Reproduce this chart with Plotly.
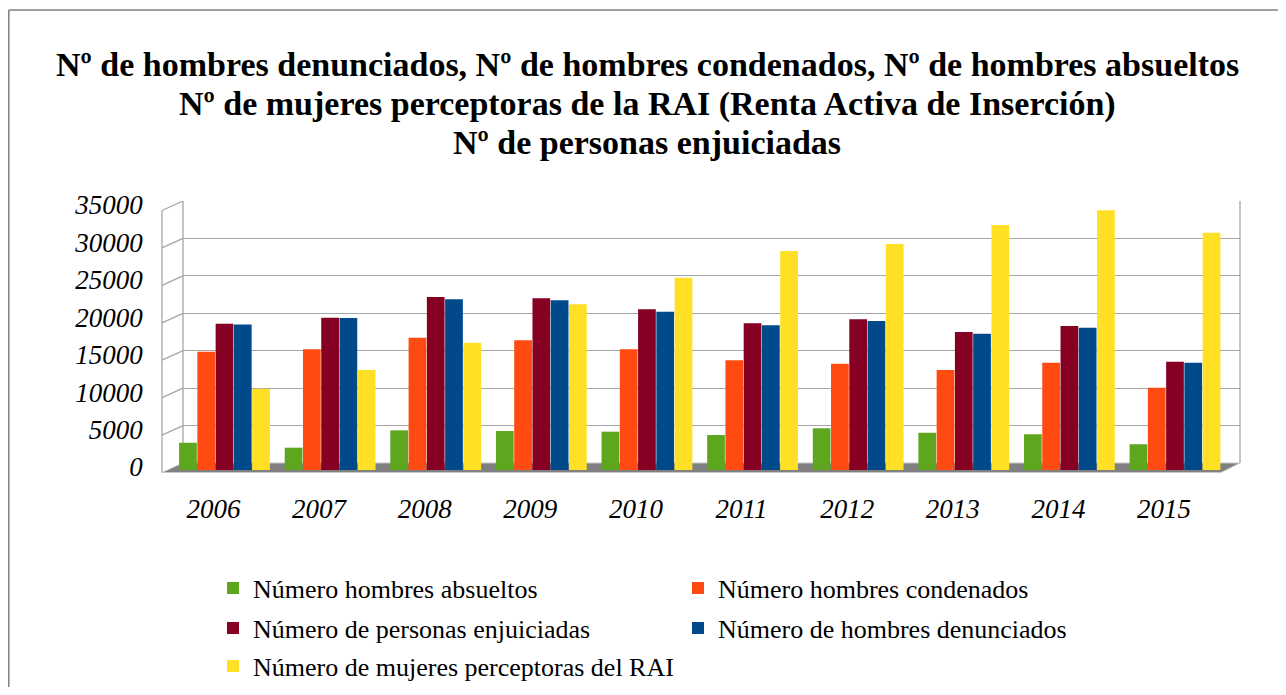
import plotly.graph_objects as go

# ---------------- data ----------------
years = ['2006', '2007', '2008', '2009', '2010', '2011', '2012', '2013', '2014', '2015']
absueltos = [3650, 2980, 5300, 5210, 5120, 4680, 5570, 4980, 4770, 3430]
condenados = [15800, 16120, 17670, 17330, 16120, 14650, 14200, 13360, 14330, 10990]
enjuiciadas = [19550, 20340, 23110, 22940, 21470, 19600, 20130, 18430, 19240, 14470]
denunciados = [19450, 20300, 22800, 22670, 21150, 19330, 19900, 18210, 19010, 14330]
rai = [10860, 13360, 17000, 22130, 25690, 29250, 30190, 32730, 34690, 31700]

series_names = ['Número hombres absueltos', 'Número hombres condenados',
                'Número de personas enjuiciadas', 'Número de hombres denunciados',
                'Número de mujeres perceptoras del RAI']
series_values = [absueltos, condenados, enjuiciadas, denunciados, rai]
series_colors = ['#5EA61E', '#FF4A12', '#850022', '#004A8C', '#FFE024']
series_legend = ['legend', 'legend', 'legend2', 'legend2', 'legend3']

y_ticks = [0, 5000, 10000, 15000, 20000, 25000, 30000, 35000]
title_lines = ['Nº de hombres denunciados, Nº de hombres condenados, Nº de hombres absueltos',
               'Nº de mujeres perceptoras de la RAI (Renta Activa de Inserción)',
               'Nº de personas enjuiciadas']

# ---------------- layout helpers (page pixel -> paper fraction) ----------------
OFF = 8                     # default page body margin
W, H = 1286 - 2 * OFF, 695 - 2 * OFF
def fx(px):
    return (px - OFF) / W
def fy(py):
    return 1 - (py - OFF) / H

SERIF = 'Liberation Serif, Times New Roman, serif'
GRID = '#a6a6a6'

fig = go.Figure()

# back-wall gridlines subplot (x / y)
fig.add_trace(go.Scatter(x=[], y=[], xaxis='x', yaxis='y', showlegend=False, hoverinfo='skip'))

# bars (x2 / y2)
for name, vals, col, lg in zip(series_names, series_values, series_colors, series_legend):
    fig.add_trace(go.Bar(x=years, y=vals, name=name, marker=dict(color=col, line=dict(width=0)),
                         xaxis='x2', yaxis='y2', legend=lg))

shapes = []
# floor
floor_pts = [(162, 472.5), (1221, 472.5), (1240, 463), (183, 463)]
path = 'M ' + ' L '.join(f'{fx(a):.5f},{fy(b):.5f}' for a, b in floor_pts) + ' Z'
shapes.append(dict(type='path', path=path, xref='paper', yref='paper',
                   fillcolor='#808080', line=dict(color='#c8c8c8', width=1), layer='below'))
# wall edges
for (x0, y0, x1, y1) in [(183, 201, 183, 463), (162, 210.5, 162, 472.5), (1240, 201, 1240, 463)]:
    shapes.append(dict(type='line', xref='paper', yref='paper', x0=fx(x0), x1=fx(x1),
                       y0=fy(y0), y1=fy(y1), line=dict(color=GRID, width=1.3), layer='below'))
# side wall diagonals
for v in y_ticks:
    shapes.append(dict(type='line', xref='paper', yref='y', ysizemode='pixel', yanchor=v,
                       x0=fx(162), x1=fx(183), y0=-9.5, y1=0,
                       line=dict(color=GRID, width=1.3), layer='below'))
# outer border (top and left edges visible)
shapes.append(dict(type='line', xref='paper', yref='paper', x0=fx(8.8), x1=1.0, y0=fy(10), y1=fy(10),
                   line=dict(color='#808080', width=1.5), layer='below'))
shapes.append(dict(type='line', xref='paper', yref='paper', x0=fx(8.8), x1=fx(8.8), y0=0, y1=fy(10),
                   line=dict(color='#808080', width=1.5), layer='below'))

# title lines as text
title_y = [64, 104, 143]
annotations = [dict(text=t, x=fx(647), xref='paper', xanchor='center', y=fy(yy), yref='paper',
                    yanchor='middle', showarrow=False,
                    font=dict(family=SERIF, size=34, color='#000000', weight='bold'))
               for t, yy in zip(title_lines, title_y)]

legend_common = dict(orientation='h', xanchor='left', yanchor='middle', entrywidth=420,
                     entrywidthmode='pixels', bgcolor='rgba(0,0,0,0)',
                     font=dict(family=SERIF, size=26, color='#000000'), traceorder='normal')

fig.update_layout(
    width=W, height=H,
    margin=dict(l=0, r=0, t=0, b=0, autoexpand=False),
    paper_bgcolor='white', plot_bgcolor='rgba(0,0,0,0)',
    barmode='group', bargap=0.135, bargroupgap=0.03,
    xaxis=dict(domain=[fx(183), fx(1240)], range=[0, 1], anchor='y', visible=False, automargin=False),
    yaxis=dict(domain=[fy(463), fy(201)], range=[0, 35000], anchor='x', tickvals=y_ticks,
               showgrid=True, gridcolor=GRID, gridwidth=1.3, zeroline=False, automargin=False,
               showticklabels=False, showline=False, ticks=''),
    xaxis2=dict(domain=[fx(171.7), fx(1227.8)], anchor='y2', type='category', automargin=False,
                showgrid=False, showline=False, zeroline=False, ticks='',
                tickfont=dict(family=SERIF, size=27, style='italic', color='#000000'),
                ticklabelshift=-11, ticklabelstandoff=20),
    yaxis2=dict(domain=[fy(470), fy(208)], range=[0, 35000], anchor='x2', tickvals=y_ticks,
                tickformat='d', showgrid=False, showline=False, zeroline=False, ticks='',
                automargin=False,
                tickfont=dict(family=SERIF, size=27, style='italic', color='#000000'),
                ticklabelstandoff=28, ticklabelshift=-3),
    shapes=shapes,
    annotations=annotations,
    legend=dict(x=fx(213), y=fy(588), **legend_common),
    legend2=dict(x=fx(213), y=fy(628), **legend_common),
    legend3=dict(x=fx(213), y=fy(666), **legend_common),
    showlegend=True,
)

fig.write_html('out.html', config={'displayModeBar': False})
